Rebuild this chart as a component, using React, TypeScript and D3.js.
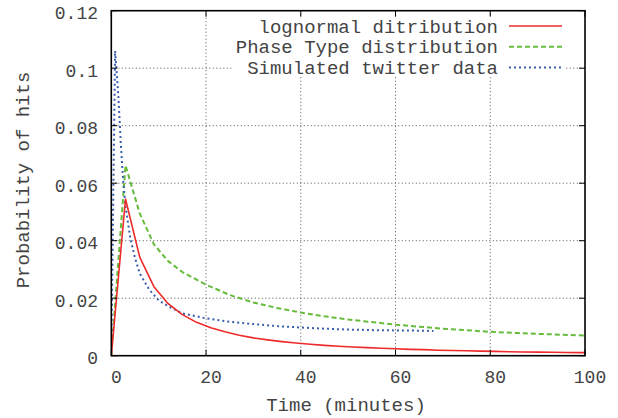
import * as d3 from "d3";
import { useEffect, useRef } from "react";

// ----- data -----
const xTicks = [0, 20, 40, 60, 80, 100];
const yTicks = [0, 0.02, 0.04, 0.06, 0.08, 0.1, 0.12];
const yTickLabels = ["0", "0.02", "0.04", "0.06", "0.08", "0.1", "0.12"];

const lognormalX = [
  0, 3, 6, 9, 12, 15, 18, 21, 24, 27, 30, 33, 36, 39, 42, 45, 48, 51, 54, 57,
  60, 63, 66, 69, 72, 75, 78, 81, 84, 87, 90, 93, 96, 99, 100,
];
const lognormalY = [
  0, 0.0545, 0.0343, 0.024, 0.0181, 0.0143, 0.0116, 0.0097, 0.0083, 0.0071,
  0.0062, 0.0055, 0.0049, 0.0044, 0.004, 0.0036, 0.0033, 0.003, 0.0028,
  0.0026, 0.0024, 0.0022, 0.0021, 0.0019, 0.0018, 0.0017, 0.0016, 0.0015,
  0.0014, 0.0013, 0.00126, 0.00119, 0.00113, 0.00108, 0.00106,
];

const phaseX = [0, 3, 6, 9, 12, 15, 20, 25, 30, 35, 40, 45, 50, 60, 70, 80, 90, 100];
const phaseY = [
  0, 0.0662, 0.0495, 0.0387, 0.0329, 0.0291, 0.0247, 0.0211, 0.0185, 0.0166,
  0.015, 0.0137, 0.0126, 0.0108, 0.0094, 0.0083, 0.0076, 0.007,
];

const twitterX = [
  0, 0.8, 1.5, 2, 2.5, 3, 4, 5, 6, 8, 10, 12, 15, 20, 25, 30, 35, 40, 45, 50,
  55, 60, 65, 68,
];
const twitterY = [
  0, 0.106, 0.09, 0.074, 0.061, 0.052, 0.041, 0.034, 0.0286, 0.023, 0.0193,
  0.0172, 0.0147, 0.013, 0.0118, 0.011, 0.0103, 0.0098, 0.0094, 0.0091,
  0.0089, 0.0088, 0.0087, 0.0086,
];

const seriesNames = [
  "lognormal ditribution",
  "Phase Type distribution",
  "Simulated twitter data",
];
const seriesColors = ["#ee2a2a", "#66bb3c", "#3a5db0"];
const seriesDash = ["none", "5,3", "2,3"];

const FONT = "'Liberation Mono', 'DejaVu Sans Mono', monospace";
const TEXT = "#444";

export default function App({ width = 618, height = 418 }) {
  const ref = useRef<SVGSVGElement | null>(null);

  useEffect(() => {
    const svg = d3.select(ref.current);
    svg.selectAll("*").remove();
    svg.attr("width", width).attr("height", height);

    const left = 111.3;
    const right = 585;
    const top = 10.7;
    const bottom = 355.7;

    const x = d3.scaleLinear().domain([0, 100]).range([left, right]);
    const y = d3.scaleLinear().domain([0, 0.12]).range([bottom, top]);

    svg
      .append("rect")
      .attr("width", width)
      .attr("height", height)
      .attr("fill", "#fff");

    // ===== Grid =====
    const grid = svg.append("g").attr("stroke", "#555").attr("stroke-width", 1)
      .attr("stroke-dasharray", "1,2.5");
    xTicks.slice(1, -1).forEach((t) => {
      grid.append("line").attr("x1", x(t)).attr("x2", x(t))
        .attr("y1", top).attr("y2", bottom);
    });
    yTicks.slice(1, -1).forEach((t) => {
      grid.append("line").attr("x1", left).attr("x2", right)
        .attr("y1", y(t)).attr("y2", y(t));
    });

    // ===== Curves =====
    const line = d3
      .line<[number, number]>()
      .x((d) => x(d[0]))
      .y((d) => y(d[1]));

    const sets: [number, number][][] = [
      lognormalX.map((v, i) => [v, lognormalY[i]]),
      phaseX.map((v, i) => [v, phaseY[i]]),
      twitterX.map((v, i) => [v, twitterY[i]]),
    ];

    svg.append("defs").append("clipPath").attr("id", "plotclip")
      .append("rect").attr("x", left).attr("y", top)
      .attr("width", right - left).attr("height", bottom - top);

    const curves = svg.append("g").attr("clip-path", "url(#plotclip)");
    [1, 2, 0].forEach((i) => {
      curves
        .append("path")
        .attr("d", line(sets[i]))
        .attr("fill", "none")
        .attr("stroke", seriesColors[i])
        .attr("stroke-width", i === 0 ? 1.6 : 2)
        .attr("stroke-dasharray", seriesDash[i])
        .attr("stroke-linejoin", "round");
    });

    // ===== Legend (opaque key) =====
    const legend = svg.append("g");
    legend
      .append("rect")
      .attr("x", 232)
      .attr("y", 17)
      .attr("width", 334)
      .attr("height", 60)
      .attr("fill", "#fff");
    seriesNames.forEach((name, i) => {
      const cy = 26 + i * 20.7;
      legend
        .append("text")
        .attr("x", 498)
        .attr("y", cy)
        .attr("dy", "0.35em")
        .attr("text-anchor", "end")
        .attr("font-family", FONT)
        .attr("font-size", 19)
        .attr("fill", TEXT)
        .text(name);
      legend
        .append("line")
        .attr("x1", 509)
        .attr("x2", 562)
        .attr("y1", cy)
        .attr("y2", cy)
        .attr("stroke", seriesColors[i])
        .attr("stroke-width", i === 0 ? 1.6 : 2)
        .attr("stroke-dasharray", seriesDash[i]);
    });

    // ===== Ticks (mirrored, inward) =====
    const ticks = svg.append("g").attr("stroke", "#000").attr("stroke-width", 1);
    xTicks.forEach((t) => {
      ticks.append("line").attr("x1", x(t)).attr("x2", x(t))
        .attr("y1", bottom).attr("y2", bottom - 6);
      ticks.append("line").attr("x1", x(t)).attr("x2", x(t))
        .attr("y1", top).attr("y2", top + 6);
    });
    yTicks.forEach((t) => {
      ticks.append("line").attr("x1", left).attr("x2", left + 6)
        .attr("y1", y(t)).attr("y2", y(t));
      ticks.append("line").attr("x1", right).attr("x2", right - 6)
        .attr("y1", y(t)).attr("y2", y(t));
    });

    // ===== Border =====
    svg
      .append("rect")
      .attr("x", left)
      .attr("y", top)
      .attr("width", right - left)
      .attr("height", bottom - top)
      .attr("fill", "none")
      .attr("stroke", "#000")
      .attr("stroke-width", 1.6);

    // ===== Tick labels =====
    const labels = svg
      .append("g")
      .attr("font-family", FONT)
      .attr("font-size", 18)
      .attr("fill", TEXT);
    xTicks.forEach((t) => {
      labels
        .append("text")
        .attr("x", x(t) + 5)
        .attr("y", 383)
        .attr("text-anchor", "middle")
        .text(String(t));
    });
    yTicks.forEach((t, i) => {
      labels
        .append("text")
        .attr("x", 98)
        .attr("y", y(t) + 2)
        .attr("dy", "0.35em")
        .attr("text-anchor", "end")
        .text(yTickLabels[i]);
    });

    // ===== Axis titles =====
    svg
      .append("text")
      .attr("x", 346)
      .attr("y", 411)
      .attr("text-anchor", "middle")
      .attr("font-family", FONT)
      .attr("font-size", 19)
      .attr("fill", TEXT)
      .text("Time (minutes)");

    svg
      .append("text")
      .attr("transform", "translate(22,180) rotate(-90)")
      .attr("dy", "0.35em")
      .attr("text-anchor", "middle")
      .attr("font-family", FONT)
      .attr("font-size", 19)
      .attr("fill", TEXT)
      .text("Probability of hits");
  }, [width, height]);

  return (
    <svg
      ref={ref}
      style={{ position: "absolute", left: 0, top: 0, display: "block" }}
    />
  );
}
